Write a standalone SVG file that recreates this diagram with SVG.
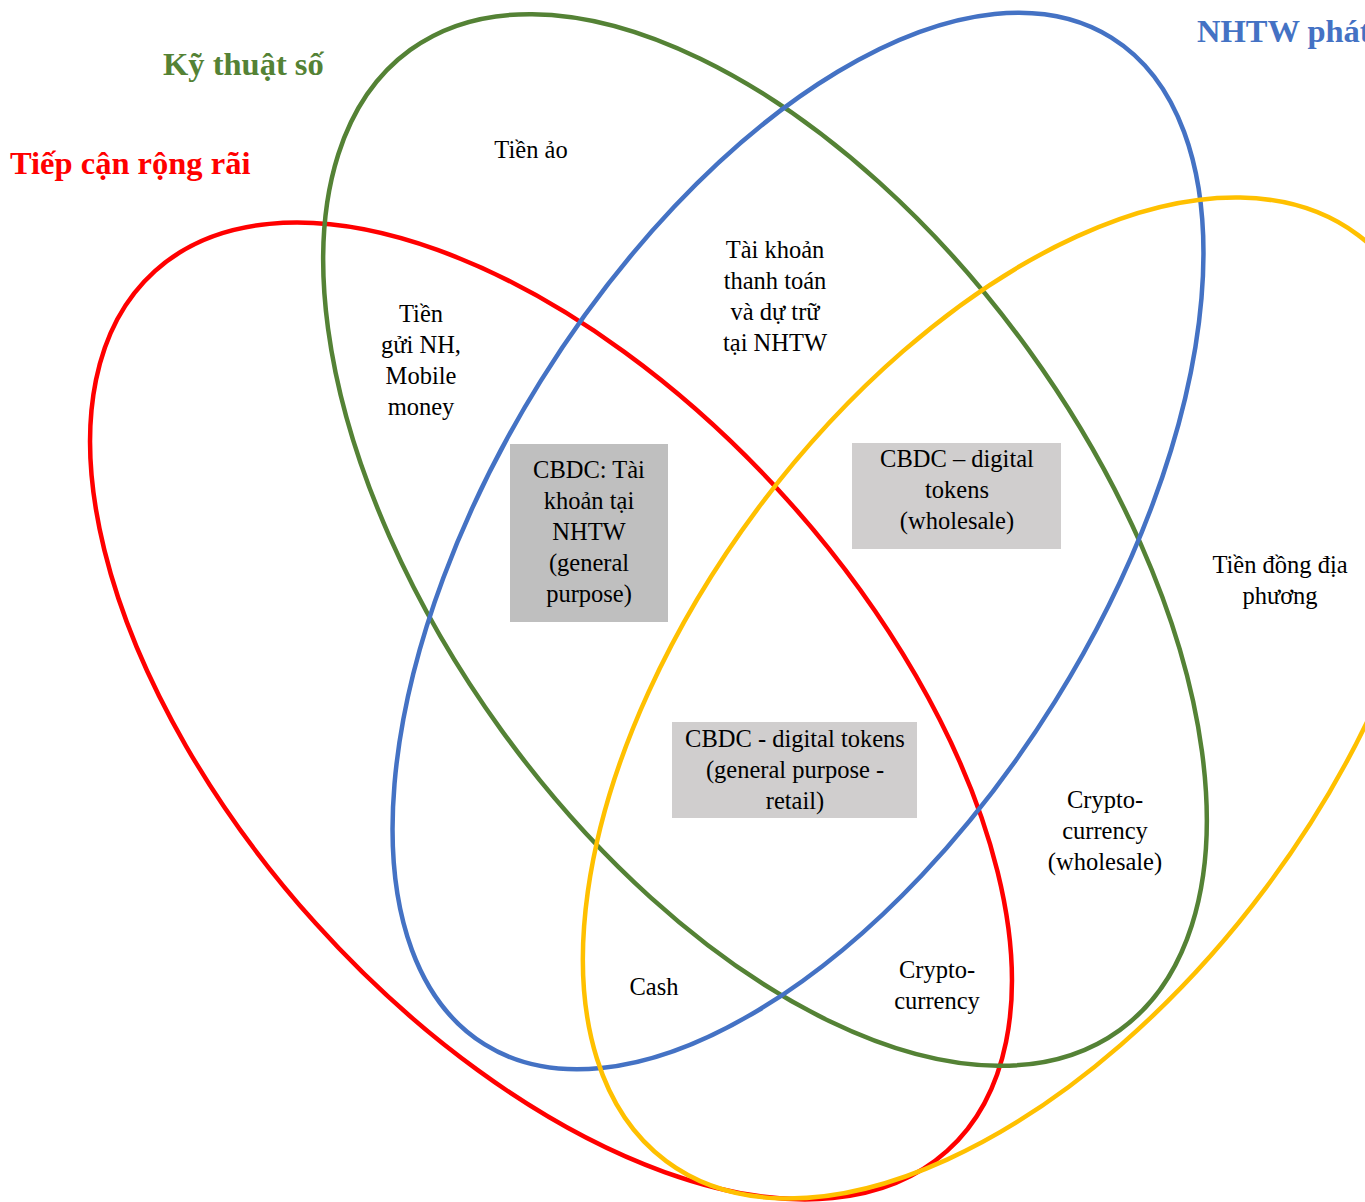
<svg xmlns="http://www.w3.org/2000/svg" width="1365" height="1202" viewBox="0 0 1365 1202">
<style>
.e{fill:none;stroke-width:4.5}
.t{font-family:"Liberation Serif","Times New Roman",serif;font-size:24.5px;fill:#000;text-anchor:middle}
.h{font-family:"Liberation Serif","Times New Roman",serif;font-size:32.5px;font-weight:bold}
</style>
<rect width="1365" height="1202" fill="#fff"/>
<g id="sets">
<ellipse id="red" class="e" stroke="#FF0000" cx="551" cy="711" rx="592" ry="317" transform="rotate(48 551 711)"/>
<ellipse id="green" class="e" stroke="#548235" cx="765" cy="540" rx="605" ry="325" transform="rotate(54.1 765 540)"/>
<ellipse id="blue" class="e" stroke="#4472C4" cx="798" cy="541" rx="593" ry="303" transform="rotate(-58.1 798 541)"/>
<ellipse id="yellow" class="e" stroke="#FFC000" cx="1012" cy="698" rx="578" ry="317" transform="rotate(-53.25 1012 698)"/>
</g>
<g id="titles">
<text class="h" x="163" y="75" fill="#548235">Kỹ thuật số</text>
<text class="h" x="10" y="174" fill="#FF0000">Tiếp cận rộng rãi</text>
<text class="h" x="1197" y="42" fill="#4472C4">NHTW phát</text>
</g>
<g id="n-tienao"><text class="t" x="531" y="158">Tiền ảo</text></g>
<g id="n-taikhoan"><text class="t" x="775" y="258">Tài khoản</text><text class="t" x="775" y="289">thanh toán</text><text class="t" x="775" y="320">và dự trữ</text><text class="t" x="775" y="351">tại NHTW</text></g>
<g id="n-tiengui"><text class="t" x="421" y="322">Tiền</text><text class="t" x="421" y="353">gửi NH,</text><text class="t" x="421" y="384">Mobile</text><text class="t" x="421" y="415">money</text></g>
<g id="n-cbdc-acc"><rect x="510" y="444" width="158" height="178" fill="#BFBFBF"/>
<text class="t" x="589" y="478">CBDC: Tài</text><text class="t" x="589" y="509">khoản tại</text><text class="t" x="589" y="540">NHTW</text><text class="t" x="589" y="571">(general</text><text class="t" x="589" y="602">purpose)</text></g>
<g id="n-cbdc-wh"><rect x="852" y="443" width="209" height="106" fill="#D0CECE"/>
<text class="t" x="957" y="467">CBDC – digital</text><text class="t" x="957" y="498">tokens</text><text class="t" x="957" y="529">(wholesale)</text></g>
<g id="n-cbdc-rt"><rect x="672" y="722" width="245" height="96" fill="#D0CECE"/>
<text class="t" x="795" y="747">CBDC - digital tokens</text><text class="t" x="795" y="778">(general purpose -</text><text class="t" x="795" y="809">retail)</text></g>
<g id="n-tiendong"><text class="t" x="1280" y="573">Tiền đồng địa</text><text class="t" x="1280" y="604">phương</text></g>
<g id="n-crypto-wh"><text class="t" x="1105" y="808">Crypto-</text><text class="t" x="1105" y="839">currency</text><text class="t" x="1105" y="870">(wholesale)</text></g>
<g id="n-cash"><text class="t" x="654" y="995">Cash</text></g>
<g id="n-crypto"><text class="t" x="937" y="978">Crypto-</text><text class="t" x="937" y="1009">currency</text></g>
<g id="connectors"></g>
</svg>
